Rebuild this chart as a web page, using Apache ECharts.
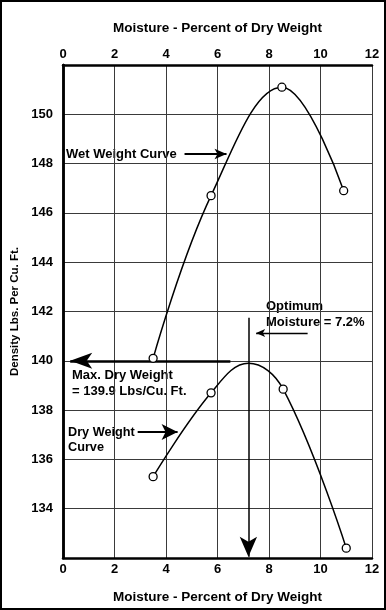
<!DOCTYPE html>
<html><head><meta charset="utf-8">
<script src="https://cdn.jsdelivr.net/npm/echarts@6/dist/echarts.min.js"></script>
<style>html,body{margin:0;padding:0;background:#fff}#c{width:386px;height:610px}</style>
</head><body><div id="c"></div>
<script>
// ---- data ----
const xTickLabels = ['0','2','4','6','8','10','12'];
const yTickLabels = ['134','136','138','140','142','144','146','148','150'];
const xTitle = 'Moisture - Percent of Dry Weight';
const yTitle = 'Density Lbs. Per Cu. Ft.';
const wetMoisture = [3.5, 5.75, 8.5, 10.9];
const wetDensity  = [140.1, 146.7, 151.1, 146.9];
const dryMoisture = [3.5, 5.75, 7.2, 8.55, 11.0];
const dryDensity  = [135.3, 138.7, 139.9, 138.85, 132.4];
const dryMarked   = [true, true, false, true, true];
const optimumMoisture = 7.2;
const maxDryDensity = 139.9;

const FONT = '"Liberation Sans", Arial, Helvetica, sans-serif';
const chart = echarts.init(document.getElementById('c'), null, {renderer:'canvas'});

const axisLabelX = {fontFamily: FONT, fontWeight: 'bold', fontSize: 13, color: '#000',
  formatter: v => xTickLabels.includes(String(v)) ? String(v) : ''};
const frameLine = {show: true, lineStyle: {color: '#000', width: 2.5}};
const grid = {show: true, lineStyle: {color: '#3a3a3a', width: 1}};

const wetData = wetMoisture.map((x,i)=>[x, wetDensity[i]]);
const dryData = dryMoisture.map((x,i)=>({value:[x, dryDensity[i]], symbol: dryMarked[i] ? 'circle' : 'none'}));

function arrow(x1,y1,x2,y2,width,size){
  return [{coord:[x1,y1], symbol:'none', lineStyle:{width:width,color:'#000',type:'solid'}},
          {coord:[x2,y2], symbol:'arrow', symbolSize:size}];
}

const option = {
  animation: false,
  backgroundColor: '#fff',
  grid: {left: 63, right: 14, top: 65, bottom: 52},
  xAxis: [
    {type:'value', position:'bottom', min:0, max:12, interval:2,
     name: xTitle, nameLocation:'middle', nameGap: 32,
     nameTextStyle:{fontFamily:FONT, fontWeight:'bold', fontSize:13.5, color:'#000'},
     axisLine: frameLine, axisTick:{show:false}, splitLine: grid,
     axisLabel: Object.assign({margin:5}, axisLabelX)},
    {type:'value', position:'top', min:0, max:12, interval:2,
     name: xTitle, nameLocation:'middle', nameGap: 30,
     nameTextStyle:{fontFamily:FONT, fontWeight:'bold', fontSize:13.5, color:'#000'},
     axisLine: frameLine, axisTick:{show:false}, splitLine:{show:false},
     axisLabel: Object.assign({margin:4}, axisLabelX)}
  ],
  yAxis: [
    {type:'value', position:'left', min:132, max:152, interval:2,
     name: yTitle, nameLocation:'middle', nameGap: 37,
     nameTextStyle:{fontFamily:FONT, fontWeight:'bold', fontSize:11.5, color:'#000'},
     axisLine: frameLine, axisTick:{show:false}, splitLine: grid,
     axisLabel:{margin:10, fontFamily:FONT, fontWeight:'bold', fontSize:13, color:'#000',
       formatter: v => yTickLabels.includes(String(v)) ? String(v) : ''}},
    {type:'value', position:'right', min:132, max:152, interval:2,
     axisLine: frameLine, axisTick:{show:false}, splitLine:{show:false}, axisLabel:{show:false}}
  ],
  series: [
    {type:'line', name:'Wet Weight Curve', data: wetData, smooth: 0.4,
     symbol:'circle', symbolSize:8, showAllSymbol:true,
     lineStyle:{color:'#000', width:1.5},
     itemStyle:{color:'#fff', borderColor:'#000', borderWidth:1.3}, z:5},
    {type:'line', name:'Dry Weight Curve', data: dryData, smooth: 0.4,
     symbol:'circle', symbolSize:8, showAllSymbol:true,
     lineStyle:{color:'#000', width:1.5},
     itemStyle:{color:'#fff', borderColor:'#000', borderWidth:1.3}, z:5,
     markLine:{silent:true, animation:false, label:{show:false}, symbol:['none','arrow'],
       lineStyle:{color:'#000', type:'solid'},
       data:[
         arrow(6.5, 140, 0.28, 140, 2.5, [12,22]),
         arrow(optimumMoisture, 141.75, optimumMoisture, 132.05, 1.5, [13,20]),
         arrow(9.5, 141.13, 7.5, 141.13, 1.3, [6,9]),
         arrow(4.72, 148.39, 6.35, 148.39, 1.8, [8,12]),
         arrow(2.9, 137.11, 4.45, 137.11, 2, [12,16])
       ]}}
  ],
  graphic: [
    {type:'rect', shape:{x:1,y:1,width:384,height:608}, style:{fill:'none', stroke:'#000', lineWidth:2}, silent:true},
    {type:'text', style:{x:66, y:154, text:'Wet Weight Curve', font:'bold 13px '+FONT, fill:'#000', textVerticalAlign:'middle'}},
    {type:'text', style:{x:72, y:375, text:'Max. Dry Weight', font:'bold 13px '+FONT, fill:'#000', textVerticalAlign:'middle'}},
    {type:'text', style:{x:72, y:391, text:'= ' + maxDryDensity + ' Lbs/Cu. Ft.', font:'bold 13px '+FONT, fill:'#000', textVerticalAlign:'middle'}},
    {type:'text', style:{x:68, y:432, text:'Dry Weight', font:'bold 12.7px '+FONT, fill:'#000', textVerticalAlign:'middle'}},
    {type:'text', style:{x:68, y:447, text:'Curve', font:'bold 12.7px '+FONT, fill:'#000', textVerticalAlign:'middle'}},
    {type:'text', style:{x:266, y:306, text:'Optimum', font:'bold 13px '+FONT, fill:'#000', textVerticalAlign:'middle'}},
    {type:'text', style:{x:266, y:322, text:'Moisture = ' + optimumMoisture + '%', font:'bold 13px '+FONT, fill:'#000', textVerticalAlign:'middle'}}
  ]
};
chart.setOption(option);
</script></body></html>
